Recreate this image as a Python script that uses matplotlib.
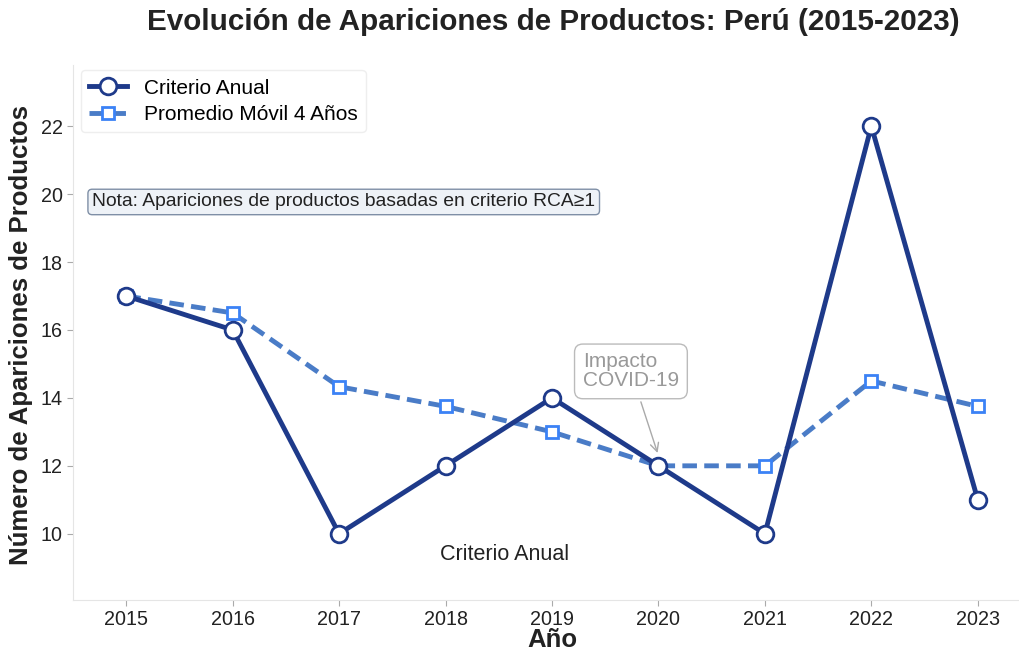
import numpy as np
import matplotlib.pyplot as plt

plt.rcParams['font.family'] = ['Liberation Sans', 'DejaVu Sans']

# ----------------------------------------------------------------------
# data
# ----------------------------------------------------------------------
years = [2015, 2016, 2017, 2018, 2019, 2020, 2021, 2022, 2023]
annual = [17, 16, 10, 12, 14, 12, 10, 22, 11]
moving_avg = [17.0, 16.5, 14.33, 13.75, 13.0, 12.0, 12.0, 14.5, 13.75]

# ----------------------------------------------------------------------
# plot
# ----------------------------------------------------------------------
fig = plt.figure(figsize=(10.19, 6.54), dpi=100)
ax = fig.add_axes([73 / 1019, 54 / 654, 958 / 1019, 535 / 654])

ax.plot(years, annual, '-o', color='#1e3a8a', linewidth=3.5,
        markersize=12, markerfacecolor='white', markeredgecolor='#1e3a8a',
        markeredgewidth=2, label='Criterio Anual', zorder=3)
ax.plot(years, moving_avg, '--s', color='#4a7cc7', linewidth=3.5,
        markersize=8, markerfacecolor='white', markeredgecolor='#3b82f6',
        markeredgewidth=2, dashes=(3, 1.5), label='Promedio Móvil 4 Años', zorder=2)

ax.set_xlim(2014.5, 2023.5)
ax.set_ylim(8.05, 23.8)
ax.set_xticks(years)
ax.set_yticks([10, 12, 14, 16, 18, 20, 22])

fig.text(0.5 * (148 + 958) / 1019, 1 - 22 / 654,
         'Evolución de Apariciones de Productos: Perú (2015-2023)',
         fontsize=21.3, fontweight='bold', ha='center', va='center', color='#222222')
ax.set_xlabel('Año', fontsize=18.5, fontweight='bold', color='#222222')
ax.set_ylabel('Número de Apariciones de Productos', fontsize=18.5,
              fontweight='bold', color='#222222')
ax.xaxis.set_label_coords(0.5, -0.052)
ax.yaxis.set_label_coords(-0.042, 0.495)

for side in ['top', 'right']:
    ax.spines[side].set_visible(False)
for side in ['left', 'bottom']:
    ax.spines[side].set_color('#e5e5e5')
ax.tick_params(axis='both', labelsize=14.2, colors='#222222', length=4,
               color='#aaaaaa')

ax.legend(loc='upper left', fontsize=15, frameon=True, fancybox=True,
          framealpha=1, edgecolor='#eeeeee', borderpad=0.4,
          handlelength=1.8, labelspacing=0.35, borderaxespad=0.25,
          bbox_to_anchor=(0.003, 1.0))

ax.text(0.02, 0.744, 'Nota: Apariciones de productos basadas en criterio RCA≥1',
        transform=ax.transAxes, fontsize=13.85, va='center', ha='left',
        color='#222222',
        bbox=dict(boxstyle='round,pad=0.22', facecolor='#eef2f7',
                  edgecolor='#7f8fa6', linewidth=1))

ax.text(2018.55, 9.4, 'Criterio Anual', fontsize=15.5, ha='center', va='center',
        color='#222222')

ax.annotate('Impacto\nCOVID-19', xy=(2020, 12.3), xytext=(2019.29, 14.78),
            fontsize=15, color='#999999', ha='left', va='center',
            linespacing=1.0,
            bbox=dict(boxstyle='round,pad=0.4', facecolor='white',
                      edgecolor='#bbbbbb', linewidth=1),
            arrowprops=dict(arrowstyle='->', color='#aaaaaa', linewidth=1))

plt.savefig('out.png', dpi=100)
